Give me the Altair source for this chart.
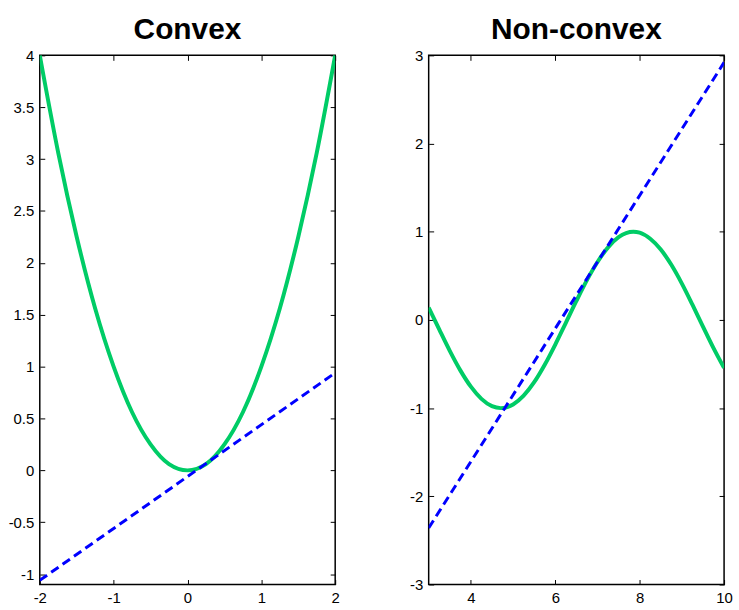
import altair as alt
import pandas as pd

# ---- data ----
convex_x = [-2.0, -1.75, -1.5, -1.25, -1.0, -0.75, -0.5, -0.25, 0.0,
            0.25, 0.5, 0.75, 1.0, 1.25, 1.5, 1.75, 2.0]
convex_y = [4.0, 3.06, 2.25, 1.56, 1.0, 0.56, 0.25, 0.06, 0.0,
            0.06, 0.25, 0.56, 1.0, 1.56, 2.25, 3.06, 4.0]
convex_line_x = [-2.0, 2.0]
convex_line_y = [-1.06, 0.94]

nonconvex_x = [3.0, 3.25, 3.5, 3.75, 4.0, 4.25, 4.5, 4.71, 5.0, 5.25, 5.5, 5.75,
               6.0, 6.25, 6.5, 6.75, 7.0, 7.25, 7.5, 7.85, 8.0, 8.25, 8.5, 8.75,
               9.0, 9.25, 9.5, 9.75, 10.0]
nonconvex_y = [0.141, -0.108, -0.351, -0.572, -0.757, -0.895, -0.978, -1.0, -0.959,
               -0.859, -0.706, -0.508, -0.279, -0.033, 0.215, 0.451, 0.657, 0.823,
               0.938, 1.0, 0.989, 0.920, 0.798, 0.625, 0.412, 0.173, -0.075, -0.319,
               -0.544]
nonconvex_line_x = [3.0, 10.0]
nonconvex_line_y = [-2.36, 2.92]

convex_xticks = [-2, -1, 0, 1, 2]
convex_yticks = [-1, -0.5, 0, 0.5, 1, 1.5, 2, 2.5, 3, 3.5, 4]
nonconvex_xticks = [4, 6, 8, 10]
nonconvex_yticks = [-3, -2, -1, 0, 1, 2, 3]

GREEN = "#00CC66"
BLUE = "#0000FF"
FONT = "Liberation Sans"
TICK = 5


def axis(orient, values, labels=True, pad=6):
    return alt.Axis(
        orient=orient, values=values, labels=labels, grid=False, domain=False,
        ticks=True, tickSize=TICK, offset=-TICK, tickColor="black", tickWidth=1,
        labelPadding=pad, labelFont=FONT, labelFontSize=15, labelColor="#000000",
        labelExpr="toString(datum.value)",
        title=None, labelFlush=False, labelOverlap=False,
    )


def panel(title, cx, cy, lx, ly, xdom, ydom, xt, yt):
    curve = pd.DataFrame({"x": cx, "y": cy})
    line = pd.DataFrame({"x": lx, "y": ly})
    g = alt.Chart(curve).mark_line(
        color=GREEN, strokeWidth=4, interpolate="monotone", clip=True
    ).encode(
        x=alt.X("x:Q", scale=alt.Scale(domain=xdom, nice=False, zero=False),
                axis=axis("bottom", xt, pad=6)),
        y=alt.Y("y:Q", scale=alt.Scale(domain=ydom, nice=False, zero=False),
                axis=axis("left", yt)),
    )
    b = alt.Chart(line).mark_line(
        color=BLUE, strokeWidth=3, strokeDash=[9, 5], clip=True
    ).encode(
        x=alt.X("x:Q", scale=alt.Scale(domain=xdom, nice=False, zero=False),
                axis=axis("top", xt, labels=False)),
        y=alt.Y("y:Q", scale=alt.Scale(domain=ydom, nice=False, zero=False),
                axis=axis("right", yt, labels=False)),
    )
    return alt.layer(g, b).resolve_scale(x="independent", y="independent").properties(
        width=297, height=532,
        title=alt.TitleParams(title, font=FONT, fontSize=30, fontWeight="bold",
                              color="black", offset=3, anchor="middle"),
    )


left = panel("Convex", convex_x, convex_y, convex_line_x, convex_line_y,
             [-2, 2], [-1.1, 4], convex_xticks, convex_yticks)
right = panel("Non-convex", nonconvex_x, nonconvex_y, nonconvex_line_x, nonconvex_line_y,
              [3, 10], [-3, 3], nonconvex_xticks, nonconvex_yticks)

chart = alt.hconcat(left, right, spacing=94, bounds="flush").properties(
    padding={"left": 7, "top": 13, "right": 5, "bottom": 5},
    background="white",
).configure_view(stroke="#000000", strokeWidth=1.5)

chart.save("out.html", embed_options={"renderer": "svg", "actions": False})
